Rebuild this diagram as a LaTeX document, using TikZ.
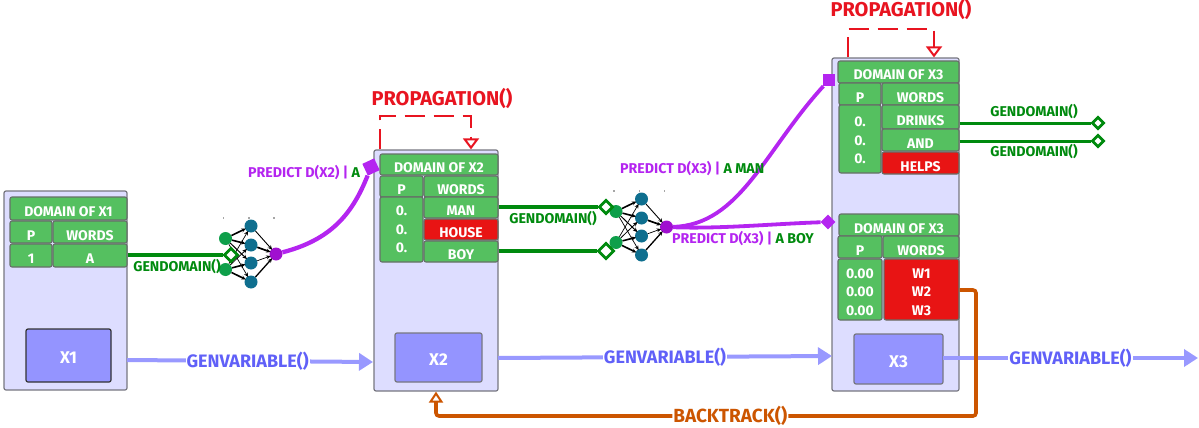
\documentclass[tikz,border=0pt]{standalone}
\usepackage{fontspec}
\setmainfont{Fira Sans}
\usetikzlibrary{arrows.meta,shapes.geometric}
\definecolor{panelfill}{HTML}{DDDDFF}
\definecolor{panelline}{HTML}{777780}
\definecolor{cellgreen}{HTML}{55C060}
\definecolor{cellline}{HTML}{667068}
\definecolor{cellred}{HTML}{E81414}
\definecolor{varfill}{HTML}{9494FF}
\definecolor{gendom}{HTML}{008A0E}
\definecolor{genvar}{HTML}{9999FF}
\definecolor{genvartext}{HTML}{6060F8}
\definecolor{predict}{HTML}{B425F0}
\definecolor{prop}{HTML}{E81420}
\definecolor{back}{HTML}{CC5500}
\definecolor{nngreen}{HTML}{0E9F4A}
\definecolor{nnteal}{HTML}{0F6F8F}
\definecolor{nnpurple}{HTML}{A010D0}
\tikzset{
  panel/.style={draw=panelline,line width=1.2pt,fill=panelfill,rounded corners=2pt,inner sep=0pt},
  cellbox/.style={draw=cellline,line width=1.1pt,fill=cellgreen,rounded corners=2pt,inner sep=0pt,text=white,align=center,font=\fontsize{14}{18.5}\selectfont\bfseries},
  redcell/.style={cellbox,fill=cellred},
  varbox/.style={draw=#1,line width=1.2pt,fill=varfill,rounded corners=2pt,inner sep=0pt,text=white,font=\fontsize{17}{19}\selectfont\bfseries},
  varbox/.default=panelline,
  label/.style={inner sep=0pt,font=\fontsize{14.2}{16}\selectfont\bfseries},
  gdlabel/.style={inner sep=0pt,text=gendom,font=\fontsize{14.2}{16}\selectfont\bfseries},
  gvlabel/.style={inner sep=1pt,fill=white,text=genvartext,font=\fontsize{18}{20}\selectfont\bfseries},
  plabel/.style={label,text=predict},
  proplabel/.style={inner sep=0pt,text=prop,font=\fontsize{20}{22}\selectfont\bfseries},
  backlabel/.style={inner sep=1pt,fill=white,text=back,font=\fontsize{19}{21}\selectfont\bfseries},
  gdline/.style={draw=gendom,line width=3.6pt},
  gdmark/.style={diamond,aspect=1,draw=gendom,fill=white,line width=2.6pt,inner sep=0pt,minimum size=14pt},
  pline/.style={draw=predict,line width=3.8pt},
  gvline/.style={draw=genvar,line width=4pt,-{Triangle[length=14pt,width=17pt]}},
  propline/.style={draw=prop,line width=2.3pt,dash pattern=on 20pt off 9pt,-{Triangle[open,length=11pt,width=16pt,fill=white,line width=2pt]}},
  backline/.style={draw=back,line width=3.6pt,rounded corners=3pt,-{Triangle[open,length=11pt,width=14pt,fill=white,line width=2pt]}},
  nnin/.style={circle,fill=nngreen,inner sep=0pt,minimum size=13pt},
  nnhid/.style={circle,fill=nnteal,inner sep=0pt,minimum size=13pt},
  nnout/.style={circle,fill=nnpurple,inner sep=0pt,minimum size=13pt},
  nnedge/.style={draw=black,line width=1.1pt,-{Stealth[length=4.5pt,width=4pt]},shorten >=-1pt},
  nnspeck/.style={fill=gray!70,inner sep=0pt,minimum size=1.2pt},
}
\newcommand{\cellat}[7][cellbox]{%
  \node[#1,minimum width=#5pt-#3pt,minimum height=#6pt-#4pt] (#2) at ({(#3+#5)/2},{(#4+#6)/2}) {\raisebox{-8pt}[4pt][4pt]{#7}};
}
\newcommand{\mcellat}[7][cellbox]{%
  \node[#1,minimum width=#5pt-#3pt,minimum height=#6pt-#4pt] (#2) at ({(#3+#5)/2},{(#4+#6)/2}) {#7};
}
\newcommand{\boxat}[7][panel]{%
  \node[#1,minimum width=#5pt-#3pt,minimum height=#6pt-#4pt] (#2) at ({(#3+#5)/2},{(#4+#6)/2}) {#7};
}
\newcommand{\nnet}[3]{%
  \begin{scope}[shift={(#2,#3)}]
    \node[nnspeck] (#1s1) at (223.5,218) {};
    \node[nnspeck] (#1s2) at (249,218) {};
    \node[nnspeck] (#1s3) at (274,218) {};
    \node[nnin] (#1i1) at (225.5,238.5) {};
    \node[nnin] (#1i2) at (225.5,269.5) {};
    \node[nnhid] (#1h1) at (251,226) {};
    \node[nnhid] (#1h2) at (251,245) {};
    \node[nnhid] (#1h3) at (251,263) {};
    \node[nnhid] (#1h4) at (251,282) {};
    \node[nnout] (#1o) at (276,254) {};
    \foreach \a/\w in {1/1.6pt,2/1.6pt,3/1pt,4/.7pt}{\draw[nnedge,line width=\w] (#1i1) -- (#1h\a);}
    \foreach \a/\w in {1/.7pt,2/.8pt,3/1.6pt,4/1.6pt}{\draw[nnedge,line width=\w] (#1i2) -- (#1h\a);}
    \foreach \a/\w in {1/.9pt,2/1.7pt,3/.7pt,4/1.3pt}{\draw[nnedge,line width=\w] (#1h\a) -- (#1o);}
  \end{scope}
}
\newcommand{\varlabel}[1]{\raisebox{-8pt}[4pt][4pt]{#1}}
\begin{document}
\begin{tikzpicture}[x=1pt,y=-1pt]
\useasboundingbox (0,0) rectangle (1199,428);
% panels
\boxat{p1}{4}{191}{127}{390}{}
\boxat{p2}{374}{150}{498}{391}{}
\boxat{p3}{832}{58}{959}{391}{}
% X1
\cellat{h1}{10}{197}{127}{220}{DOMAIN OF X1}
\cellat{a1}{10}{221}{52}{243}{P}
\cellat{b1}{53}{221}{127}{243}{WORDS}
\cellat{c1}{10}{244}{52}{267}{1}
\cellat{d1}{53}{244}{127}{267}{A}
\boxat[varbox=black!80]{x1}{26}{329}{111}{382}{\varlabel{X1}}
% X2
\cellat{h2}{380}{154}{498}{175}{DOMAIN OF X2}
\cellat{a2}{380}{176}{423}{197}{P}
\cellat{b2}{424}{176}{498}{197}{WORDS}
\mcellat{c2}{380}{197}{423}{262}{0.\\0.\\0.}
\cellat{d2}{424}{197}{498}{218}{MAN}
\cellat[redcell]{e2}{424}{219}{498}{240}{HOUSE}
\cellat{f2}{424}{241}{498}{262}{BOY}
\boxat[varbox]{x2}{395}{333}{482}{382}{\varlabel{X2}}
% X3 upper
\cellat{h3}{838}{61}{959}{83}{DOMAIN OF X3}
\cellat{a3}{839}{83}{881}{105}{P}
\cellat{b3}{882}{83}{959}{105}{WORDS}
\mcellat{c3}{839}{105}{881}{173}{\rule{0pt}{13pt}0.\\0.\\0.}
\cellat{d3}{882}{105}{959}{129}{DRINKS}
\cellat{e3}{882}{129}{959}{151}{AND}
\cellat[redcell]{f3}{882}{152}{959}{174}{HELPS}
% X3 lower
\cellat{h4}{839}{214}{959}{236}{DOMAIN OF X3}
\cellat{a4}{838}{236}{882}{258}{P}
\cellat{b4}{883}{236}{959}{258}{WORDS}
\mcellat{c4}{838}{259}{882}{320}{\rule{0pt}{14.5pt}0.00\\0.00\\0.00}
\mcellat[redcell]{d4}{884}{259}{959}{320}{\rule{0pt}{14.5pt}W1\\W2\\W3}
\boxat[varbox]{x3}{854}{334}{943}{384}{\varlabel{X3}}
% neural nets
\nnet{na}{0}{0}
\nnet{nb}{390.5}{-27}
% free ends and markers
\coordinate (tx1) at (373,362);
\coordinate (tx2) at (832,356);
\coordinate (tx3) at (1198,358);
\coordinate (sx1) at (127,360);
\coordinate (sx2) at (498,358);
\coordinate (sx3) at (943,358);
\node[gdmark] (m1) at (231,255) {};
\node[gdmark] (m2) at (606,207) {};
\node[gdmark,minimum size=16pt] (m3) at (606,251) {};
\node[gdmark,minimum size=12pt] (m4) at (1098,123) {};
\node[gdmark,minimum size=12pt] (m5) at (1098,141) {};
% green connectors
\draw[gdline] (d1.east|-m1) -- (m1);
\draw[gdline] (p2.east|-m2) -- (m2);
\draw[gdline] (p2.east|-m3) -- (m3);
\draw[gdline,line width=3pt] (p3.east|-m4) -- (m4);
\draw[gdline,line width=3pt] (p3.east|-m5) -- (m5);
\node[gdmark] at (m1) {};
\node[gdmark] at (m2) {};
\node[gdmark,minimum size=16pt] at (m3) {};
\node[gdmark,minimum size=12pt] at (m4) {};
\node[gdmark,minimum size=12pt] at (m5) {};
\node[gdlabel] (g1) at (177,267) {GENDOMAIN()};
\node[gdlabel] (g2) at (553,219) {GENDOMAIN()};
\node[gdlabel] (g3) at (1034,112) {GENDOMAIN()};
\node[gdlabel] (g4) at (1034,152) {GENDOMAIN()};
% genvariable
\draw[gvline] (sx1) -- node[gvlabel,pos=.49] (v1) {GENVARIABLE()} (tx1);
\draw[gvline] (sx2) -- node[gvlabel,pos=.5] (v2) {GENVARIABLE()} (tx2);
\draw[gvline] (sx3) -- node[gvlabel,pos=.5] (v3) {GENVARIABLE()} (tx3);
% backtrack
\coordinate (bk1) at (976,290);
\coordinate (bk2) at (976,416);
\coordinate (bk3) at (436,416);
\draw[backline] (d4.east|-bk1) -- (bk1) -- (bk2) -- node[backlabel,pos=.455] (bt) {BACKTRACK()} (bk3) -- (p2.south-|bk3);
% predict
\node[fill=predict,inner sep=0pt,minimum size=13pt,rotate=25] (q1) at (371,167) {};
\node[fill=predict,inner sep=0pt,minimum size=12pt] (q2) at (829,80) {};
\node[diamond,aspect=1,fill=predict,inner sep=0pt,minimum size=15pt] (q3) at (828,222) {};
\draw[pline,line width=4.3pt] (nao) .. controls (330,240) and (352,215) .. (q1);
\draw[pline] (nbo) .. controls (740,225) and (765,150) .. (q2);
\draw[pline] (nbo) .. controls (720,229) and (770,224) .. (q3);
\node[plabel,anchor=west] (l1) at (248,173) {PREDICT D(X2) | \textcolor{gendom}{A}};
\node[plabel,anchor=west] (l2) at (620,169) {PREDICT D(X3) | \textcolor{gendom}{A MAN}};
\node[plabel,anchor=west] (l3) at (672,239) {PREDICT D(X3) | \textcolor{gendom}{A BOY}};
% propagation
\coordinate (r1) at (380,116);
\coordinate (r2) at (471,116);
\coordinate (r3) at (848,29);
\coordinate (r4) at (934,29);
\draw[propline] (p2.north-|r1) -- (r1) -- (r2) -- (p2.north-|r2);
\draw[propline] (p3.north-|r3) -- (r3) -- (r4) -- (p3.north-|r4);
\node[proplabel] (t1) at (442,98) {PROPAGATION()};
\node[proplabel] (t2) at (901,10) {PROPAGATION()};
\end{tikzpicture}
\end{document}
